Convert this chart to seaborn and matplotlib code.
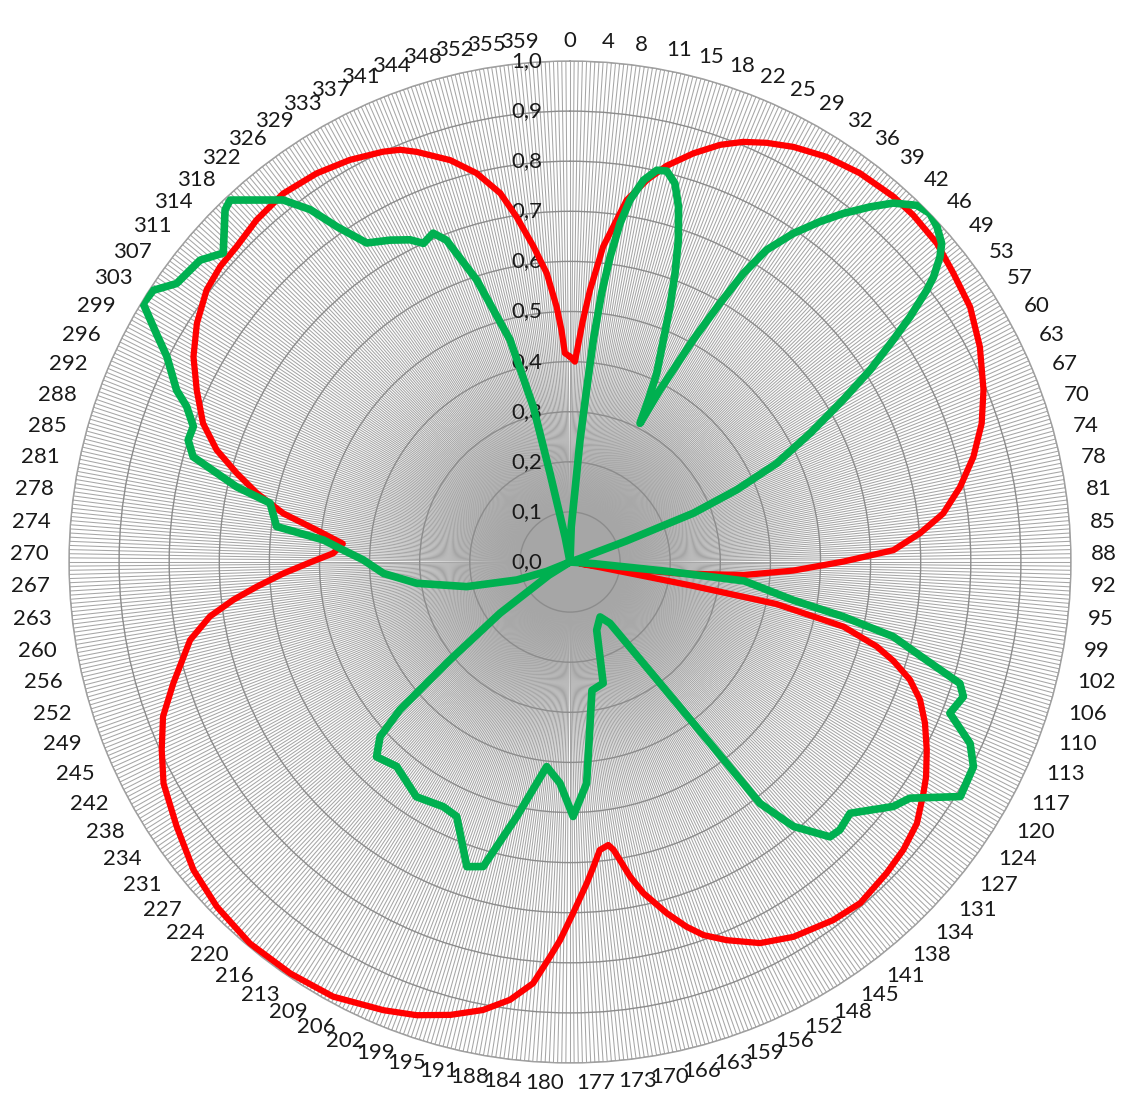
import numpy as np
import pandas as pd
import matplotlib
matplotlib.use("Agg")
import matplotlib.pyplot as plt
import seaborn as sns

# angle tick labels shown around the rim (101 evenly spaced categories)
angle_labels = [0, 4, 8, 11, 15, 18, 22, 25, 29, 32, 36, 39, 42, 46, 49, 53, 57, 60, 63, 67,
                70, 74, 78, 81, 85, 88, 92, 95, 99, 102, 106, 110, 113, 117, 120, 124, 127, 131,
                134, 138, 141, 145, 148, 152, 156, 159, 163, 166, 170, 173, 177, 180, 184, 188,
                191, 195, 199, 202, 206, 209, 213, 216, 220, 224, 227, 231, 234, 238, 242, 245,
                249, 252, 256, 260, 263, 267, 270, 274, 278, 281, 285, 288, 292, 296, 299, 303,
                307, 311, 314, 318, 322, 326, 329, 333, 337, 341, 344, 348, 352, 355, 359]
radial_labels = ["0,0", "0,1", "0,2", "0,3", "0,4", "0,5", "0,6", "0,7", "0,8", "0,9", "1,0"]

# red series (angle in degrees, normalised level)
red_deg = [0, 1.4, 3, 4.2, 6.0, 8.9, 11.4, 13.7, 16.8, 19.8, 22.4, 25.1, 28.3, 32.3, 36.7, 41.5,
           44.7, 49.0, 53.0, 57.5, 62.3, 67.4, 71.4, 75.4, 79.1, 82.6, 85.3, 87.9, 89.9, 92.2,
           94.3, 96, 98, 99, 100, 101, 101.5, 103.3, 105.4, 107, 109.1, 111.5, 114.4, 117.8,
           121.1, 123.2, 127.0, 130.8, 134.5, 139.6, 143.7, 149.2, 153.5, 157.5, 160.3, 162.3,
           164.6, 167.5, 169.2, 170.5, 171.4, 172.3, 174.1, 175.6, 177.0, 179.5, 181.5, 182.9,
           185, 187.8, 191, 194.8, 198.7, 202.6, 208.6, 214.2, 220, 225.7, 230.7, 236.1, 241.4,
           245.3, 249.2, 253.0, 258.4, 261.4, 263.6, 265.5, 267.7, 269.9, 272.1, 274.6, 277.2,
           279.6, 282.4, 284.9, 287.6, 290.7, 294.7, 298.6, 302.6, 306.8, 310.2, 313.4, 317.5,
           322.1, 326.9, 331.3, 335.5, 337.6, 339.5, 343.4, 346.5, 349.3, 351.2, 353.4, 355.4,
           357.0, 357.9, 358.6, 360]
red_r = [0.41, 0.40, 0.48, 0.544, 0.633, 0.731, 0.778, 0.814, 0.852, 0.885, 0.907, 0.924, 0.941,
         0.957, 0.968, 0.974, 0.974, 0.970, 0.958, 0.947, 0.924, 0.894, 0.867, 0.832, 0.793,
         0.751, 0.701, 0.646, 0.546, 0.446, 0.347, 0.22, 0.08, 0.02, 0.06, 0.25, 0.42, 0.561,
         0.635, 0.675, 0.718, 0.751, 0.778, 0.805, 0.830, 0.843, 0.867, 0.879, 0.886, 0.894,
         0.887, 0.871, 0.850, 0.817, 0.791, 0.764, 0.727, 0.677, 0.639, 0.603, 0.581, 0.570,
         0.578, 0.610, 0.642, 0.701, 0.755, 0.789, 0.844, 0.882, 0.911, 0.935, 0.955, 0.969,
         0.988, 0.993, 0.994, 0.985, 0.971, 0.946, 0.924, 0.897, 0.869, 0.828, 0.774, 0.727,
         0.676, 0.627, 0.573, 0.519, 0.473, 0.455, 0.510, 0.58, 0.640, 0.688, 0.740, 0.783,
         0.820, 0.856, 0.884, 0.906, 0.914, 0.916, 0.926, 0.932, 0.926, 0.915, 0.900, 0.890,
         0.874, 0.837, 0.798, 0.749, 0.697, 0.634, 0.578, 0.510, 0.463, 0.417, 0.41]

# green series
green_deg = [0, 2, 4.0, 4.7, 5.5, 6.0, 6.7, 7.5, 8.4, 9.4, 10.9, 12.5, 13.9, 15.5, 17.0, 18.6,
             20.0, 21.4, 22.8, 24.7, 25.8, 26.8, 27.6, 29.0, 30.1, 31.0, 32.2, 34.2, 36.3, 38.1,
             40.2, 42.0, 44.2, 45.9, 47.6, 49.4, 50.5, 51.9, 52.7, 54.2, 55.5, 57.4, 59.3, 61.8,
             64.5, 66.6, 68.4, 69.5, 71, 80, 92, 94, 95.5, 96.2, 99.7, 101.3, 103, 105.4, 107.3,
             108.9, 111.7, 114.4, 116.9, 121, 124.8, 127.1, 131.9, 134.8, 136.6, 139.8, 141.8,
             142.3, 143.4, 146.9, 151.3, 158.6, 164.7, 170.3, 175.7, 179.3, 182.6, 186.5, 191.8,
             195.9, 198.7, 204, 207.4, 213.2, 220.3, 224.8, 227.4, 229, 230.8, 233.8, 238, 244,
             248, 251.3, 256.6, 262.1, 266.5, 270.6, 273, 275.1, 276.9, 281.1, 282.7, 285.6,
             287.7, 289.8, 292.1, 293.6, 297, 298.9, 301.2, 303.1, 305.3, 309.2, 311.7, 315.6,
             316.8, 321.6, 323.6, 325.2, 327.5, 330.8, 333.6, 335.3, 337.4, 339, 341.7, 344.9,
             346.7, 347.3, 349, 352, 360]
green_r = [0.0, 0.07, 0.144, 0.244, 0.345, 0.446, 0.540, 0.615, 0.683, 0.732, 0.776, 0.801,
           0.804, 0.784, 0.741, 0.678, 0.613, 0.547, 0.481, 0.414, 0.359, 0.310, 0.387, 0.507,
           0.597, 0.672, 0.736, 0.793, 0.843, 0.884, 0.928, 0.964, 0.993, 1.0, 0.992, 0.977,
           0.957, 0.922, 0.895, 0.837, 0.783, 0.711, 0.634, 0.544, 0.457, 0.362, 0.265, 0.12,
           0.02, 0.0, 0.0, 0.05, 0.2, 0.35, 0.452, 0.556, 0.662, 0.738, 0.815, 0.83, 0.816,
           0.877, 0.903, 0.909, 0.826, 0.809, 0.751, 0.759, 0.755, 0.691, 0.613, 0.457, 0.301,
           0.146, 0.125, 0.146, 0.251, 0.26, 0.443, 0.508, 0.442, 0.411, 0.519, 0.632, 0.642,
           0.556, 0.55, 0.56, 0.535, 0.548, 0.515, 0.45, 0.309, 0.173, 0.05, 0.0, 0.05, 0.112,
           0.212, 0.309, 0.373, 0.413, 0.453, 0.494, 0.59, 0.61, 0.682, 0.781, 0.8, 0.799, 0.826,
           0.857, 0.903, 0.943, 0.996, 0.993, 0.962, 0.953, 0.927, 0.984, 0.991, 0.922, 0.874,
           0.815, 0.755, 0.736, 0.718, 0.7, 0.711, 0.688, 0.593, 0.459, 0.318, 0.181, 0.05, 0.0,
           0.0]

red_df = pd.DataFrame({"theta": np.deg2rad(red_deg), "r": red_r})
green_df = pd.DataFrame({"theta": np.deg2rad(green_deg), "r": green_r})

sns.set_theme(style="white")
plt.rcParams["font.family"] = ["Lato", "DejaVu Sans"]

fig = plt.figure(figsize=(11.24, 10.98), dpi=100)
ax = fig.add_axes([69 / 1124, 35 / 1098, 1002 / 1124, 1002 / 1098], projection="polar")
ax.set_theta_zero_location("N")
ax.set_theta_direction(-1)

sns.lineplot(data=red_df, x="theta", y="r", ax=ax, color="#ff0000", lw=4.5,
             sort=False, estimator=None, zorder=5)
sns.lineplot(data=green_df, x="theta", y="r", ax=ax, color="#00b050", lw=5.5,
             sort=False, estimator=None, zorder=6)
ax.set_xlabel("")
ax.set_ylabel("")
ax.set_ylim(0, 1)

# dense category spokes + level circles
n_spokes = 760
ax.set_xticks(np.deg2rad(np.arange(n_spokes) * 360 / n_spokes))
ax.set_xticklabels([])
ax.set_yticks(np.arange(0, 1.01, 0.1))
ax.set_yticklabels([])
ax.xaxis.grid(True, color="#a6a6a6", lw=0.75)
ax.yaxis.grid(True, color="#8c8c8c", lw=1.0)
ax.tick_params(length=0)
ax.spines["polar"].set_color("#a0a0a0")
ax.spines["polar"].set_linewidth(1.0)

# rim labels
fs = 16
for k, lab in enumerate(angle_labels):
    th = np.deg2rad(k * 360 / len(angle_labels))
    s = str(lab)
    w = len(s) * 12.9
    dx = w / 2 * np.clip(np.sin(th) * 15, -1, 1) + 20 * np.sin(th)
    dy = np.cos(th) * 20
    ax.annotate(s, xy=(th, 1.0), xytext=(dx, dy), textcoords="offset pixels",
                ha="center", va="center", fontsize=fs, color="#1a1a1a",
                annotation_clip=False)

# level labels next to the top spoke
for i, lab in enumerate(radial_labels):
    ax.annotate(lab, xy=(0, i / 10), xytext=(-28, 0), textcoords="offset pixels",
                ha="right", va="center", fontsize=fs, color="#1a1a1a", zorder=3)

fig.savefig("out.png", dpi=100)
